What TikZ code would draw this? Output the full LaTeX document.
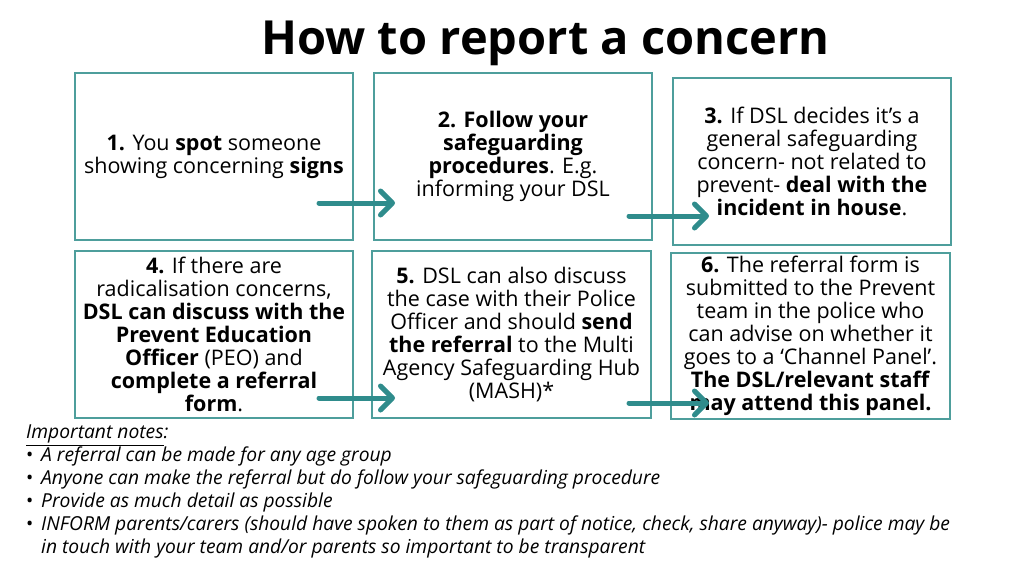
\documentclass[tikz,border=0pt]{standalone}
\usepackage{fontspec}
\setmainfont{Open Sans}
\usetikzlibrary{arrows.meta}
\definecolor{boxcol}{HTML}{4E9E9C}
\definecolor{arrowcol}{HTML}{2F8C8C}
\tikzset{
  stepbox/.style={draw=boxcol, line width=1.2pt, minimum width=278pt, minimum height=167pt,
    align=center, inner sep=0pt, font=\fontsize{21.5}{23}\selectfont, text=black},
  flowarrow/.style={draw=arrowcol, line width=5pt, line cap=round,
    -{Straight Barb[length=12pt,width=24pt,round]}},
}
\begin{document}
\begin{tikzpicture}[x=1pt,y=-1pt]
\fill[white] (0,0) rectangle (1024,575);
\useasboundingbox (0,0) rectangle (1024,575);

\node[font=\fontsize{47}{50}\selectfont\bfseries] (title) at (545.5,43) {How to report a concern};

\node[stepbox] (b1) at (214,156.5) {\textbf{1.} You \textbf{spot} someone\\ showing concerning \textbf{signs}};
\node[stepbox] (b2) at (513,156.5) {\textbf{2. Follow your}\\ \textbf{safeguarding}\\ \textbf{procedures}. E.g.\\ informing your DSL};
\node[stepbox] (b3) at (812,161.5) {\textbf{3.} If DSL decides it’s a\\ general safeguarding\\ concern- not related to\\ prevent- \textbf{deal with the}\\ \textbf{incident in house}.};
\node[stepbox] (b4) at (214,334.5) {\textbf{4.} If there are\\ radicalisation concerns,\\ \textbf{DSL can discuss with the}\\ \textbf{Prevent Education}\\ \textbf{Officer} (PEO) and\\ \textbf{complete a referral}\\ \textbf{form}.};
\node[stepbox, minimum width=279pt] (b5) at (511.5,334.5) {\textbf{5.} DSL can also discuss\\ the case with their Police\\ Officer and should \textbf{send}\\ \textbf{the referral} to the Multi\\ Agency Safeguarding Hub\\ (MASH)*};
\node[stepbox, minimum width=279pt, minimum height=166pt] (b6) at (810.5,336) {\textbf{6.} The referral form is\\ submitted to the Prevent\\ team in the police who\\ can advise on whether it\\ goes to a ‘Channel Panel’.\\ \textbf{The DSL/relevant staff}\\ \textbf{may attend this panel.}};

\coordinate (a1s) at (319,203);
\coordinate (a1e) at (395,203);
\coordinate (a2s) at (629,216);
\coordinate (a2e) at (709,216);
\coordinate (a3s) at (319,398);
\coordinate (a3e) at (395,398);
\coordinate (a4s) at (629,403);
\coordinate (a4e) at (709,403);
\draw[flowarrow] (a1s) -- (a1e);
\draw[flowarrow] (a2s) -- (a2e);
\draw[flowarrow] (a3s) -- (a3e);
\draw[flowarrow] (a4s) -- (a4e);

\node[anchor=north west, align=left, inner sep=0pt, font=\fontsize{19.25}{23}\selectfont\itshape] (notes) at (26,425)
{\underline{Important notes}:\\
\makebox[15pt][l]{\upshape•}A referral can be made for any age group\\
\makebox[15pt][l]{\upshape•}Anyone can make the referral but do follow your safeguarding procedure\\
\makebox[15pt][l]{\upshape•}Provide as much detail as possible\\
\makebox[15pt][l]{\upshape•}INFORM parents/carers (should have spoken to them as part of notice, check, share anyway)- police may be\\
\hspace*{15pt}in touch with your team and/or parents so important to be transparent};
\end{tikzpicture}
\end{document}
